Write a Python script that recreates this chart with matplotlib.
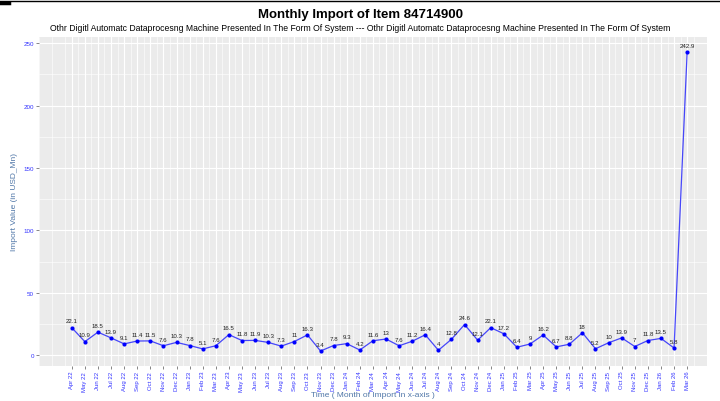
import matplotlib
matplotlib.use("Agg")
import matplotlib.pyplot as plt
from matplotlib.lines import Line2D

plt.rcParams['font.family'] = ['Liberation Sans', 'DejaVu Sans']

months = ["Apr 22","May 22","Jun 22","Jul 22","Aug 22","Sep 22","Oct 22","Nov 22","Dec 22","Jan 23","Feb 23","Mar 23",
          "Apr 23","May 23","Jun 23","Jul 23","Aug 23","Sep 23","Oct 23","Nov 23","Dec 23","Jan 24","Feb 24","Mar 24",
          "Apr 24","May 24","Jun 24","Jul 24","Aug 24","Sep 24","Oct 24","Nov 24","Dec 24","Jan 25","Feb 25","Mar 25",
          "Apr 25","May 25","Jun 25","Jul 25","Aug 25","Sep 25","Oct 25","Nov 25","Dec 25","Jan 26","Feb 26","Mar 26"]
values = [22.1,10.9,18.5,13.9,9.1,11.4,11.5,7.6,10.3,7.8,5.1,7.6,
          16.5,11.8,11.9,10.3,7.3,11,16.3,3.4,7.8,9.3,4.2,11.6,
          13,7.6,11.2,16.4,4,12.8,24.6,12.1,22.1,17.2,6.4,9,
          16.2,6.7,8.8,18,5.2,10,13.9,7,11.8,13.5,5.8,242.9]
y_ticks = [0, 50, 100, 150, 200, 250]

title = "Monthly Import of Item 84714900"
subtitle = ("Othr Digitl Automatc Dataprocesng Machine Presented In The Form Of System --- "
            "Othr Digitl Automatc Dataprocesng Machine Presented In The Form Of System")

fig = plt.figure(figsize=(7.2, 4.02), dpi=100)
ax = fig.add_axes([0.0542, 0.0871, 0.928, 0.8184])
ax.set_facecolor("#EBEBEB")

n = len(months)
x = list(range(n))
ax.plot(x, values, color="#0000FF", lw=0.9, alpha=0.7, zorder=3)
ax.scatter(x, values, color="#0000FF", s=9, zorder=4, linewidths=0)
for xi, v in zip(x, values):
    ax.annotate(f"{v:g}", (xi, v), xytext=(0, 3), textcoords="offset points",
                ha="center", va="bottom", fontsize=4.4, color="#222222", zorder=5)

ax.set_xlim(-2.44, n - 1 + 1.53)
ax.set_ylim(-8.6, 254.9)
ax.set_yticks(y_ticks)
ax.set_yticks([25, 75, 125, 175, 225], minor=True)
ax.set_xticks(x)
ax.set_xticks([i + 0.5 for i in range(-3, n + 1)], minor=True)
ax.set_xticklabels(months, rotation=90, fontsize=4.3, color="#3333FF")
ax.tick_params(axis="y", labelsize=4.5, labelcolor="#3333FF", length=2, color="#555555", width=0.5, pad=1.5)
ax.tick_params(which="minor", length=0)
ax.tick_params(axis="x", length=2, color="#555555", width=0.5, pad=1.5)
ax.grid(True, which="major", color="white", lw=0.8)
ax.grid(True, which="minor", color="white", lw=0.4)
ax.set_axisbelow(True)
for s in ax.spines.values():
    s.set_visible(False)

ax.set_ylabel("Import Value (in USD_Mn)", fontsize=6, color="#5077A8")
ax.yaxis.set_label_coords(-0.031, 0.5)
ax.set_xlabel("Time ( Month of Import in x-axis )", fontsize=6, color="#5077A8", va="center")
ax.xaxis.set_label_coords(0.5, -0.088)

fig.text(0.5, 0.962, title, ha="center", va="center", fontsize=9.5, fontweight="bold")
fig.text(0.5, 0.928, subtitle, ha="center", va="center", fontsize=6.2)

fig.add_artist(Line2D([0, 1], [0.995, 0.995], color="black", lw=1.0, transform=fig.transFigure))
fig.add_artist(Line2D([0, 0.012], [0.99, 0.99], color="black", lw=2.5, transform=fig.transFigure))

fig.savefig("out.png", dpi=100)
